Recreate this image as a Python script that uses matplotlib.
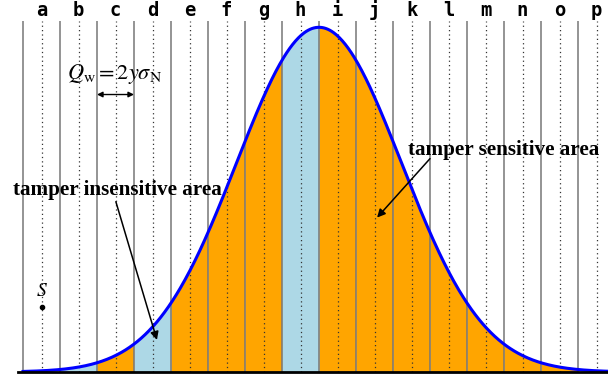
import numpy as np
import matplotlib
matplotlib.use('Agg')
import matplotlib.pyplot as plt

# bins a..p, one per quantisation step
bin_labels = list("abcdefghijklmnop")
bin_region = ["none", "insensitive", "sensitive", "insensitive",
              "sensitive", "sensitive", "sensitive", "insensitive",
              "sensitive", "sensitive", "sensitive", "sensitive",
              "sensitive", "sensitive", "sensitive", "none"]

# gaussian host distribution (in bin units)
mu = 8.0
sigma = 2.23
peak = 1.0

s_point = (0.5, 0.189)

REGION_COLORS = {"none": "white", "insensitive": "#add8e6", "sensitive": "#ffa500"}

fig = plt.figure(figsize=(6.08, 3.76), dpi=100)
ax = fig.add_axes([18 / 608, 4 / 376, 590 / 608, 351 / 376])
x_max = 585 / 37
ax.set_xlim(-5 / 37, x_max)
ax.set_ylim(0, 351 / 344.7)

def pdf(x):
    return peak * np.exp(-0.5 * ((x - mu) / sigma) ** 2)

n = len(bin_labels)
for k, region in enumerate(bin_region):
    xs = np.linspace(k, min(k + 1, x_max), 60)
    ax.fill_between(xs, 0, pdf(xs), color=REGION_COLORS[region], lw=0, zorder=1)

for k in range(n):
    ax.axvline(k, color="#777777", lw=1.1, zorder=2)
    ax.axvline(k + 0.5, color="#333333", lw=0.9, ls=(0, (1, 2.5)), zorder=2)

xs = np.linspace(0, x_max, 600)
ax.plot(xs, pdf(xs), color="#0000ff", lw=2.2, zorder=4)

ax.set_xticks(np.arange(n) + 0.5)
ax.set_xticklabels(bin_labels, family="DejaVu Sans Mono", fontweight="bold", fontsize=13.5)
ax.xaxis.tick_top()
ax.tick_params(axis="x", length=0, pad=1)
ax.set_yticks([])
for side in ["top", "left", "right"]:
    ax.spines[side].set_visible(False)
ax.spines["bottom"].set_linewidth(2)
ax.spines["bottom"].set_zorder(5)

plt.rcParams["mathtext.fontset"] = "stix"
serif = "Liberation Serif"

ax.text(2.46, 0.865, r"$Q_\mathrm{w} = 2y\sigma_\mathrm{N}$", ha="center", va="center",
        fontsize=16, zorder=6)
ax.annotate("", xy=(2, 0.805), xytext=(3, 0.805),
            arrowprops=dict(arrowstyle="<|-|>", color="black", lw=1, mutation_scale=8,
                            shrinkA=0, shrinkB=0), zorder=6)

ax.text(2.55, 0.529, "tamper insensitive area", ha="center", va="center",
        family=serif, fontweight="bold", fontsize=15.2, zorder=6)
ax.annotate("", xy=(3.62, 0.093), xytext=(2.51, 0.494),
            arrowprops=dict(arrowstyle="-|>", color="black", lw=1.1, mutation_scale=12,
                            shrinkA=0, shrinkB=0), zorder=6)

ax.text(13.0, 0.645, "tamper sensitive area", ha="center", va="center",
        family=serif, fontweight="bold", fontsize=15.2, zorder=6)
ax.annotate("", xy=(9.57, 0.448), xytext=(11.0, 0.619),
            arrowprops=dict(arrowstyle="-|>", color="black", lw=1.1, mutation_scale=12,
                            shrinkA=0, shrinkB=0), zorder=6)

ax.plot([s_point[0]], [s_point[1]], "o", color="black", ms=3, zorder=6)
ax.text(s_point[0], s_point[1] + 0.02, r"$S$", ha="center", va="bottom", fontsize=14, zorder=6)

fig.savefig("out.png", dpi=100)
